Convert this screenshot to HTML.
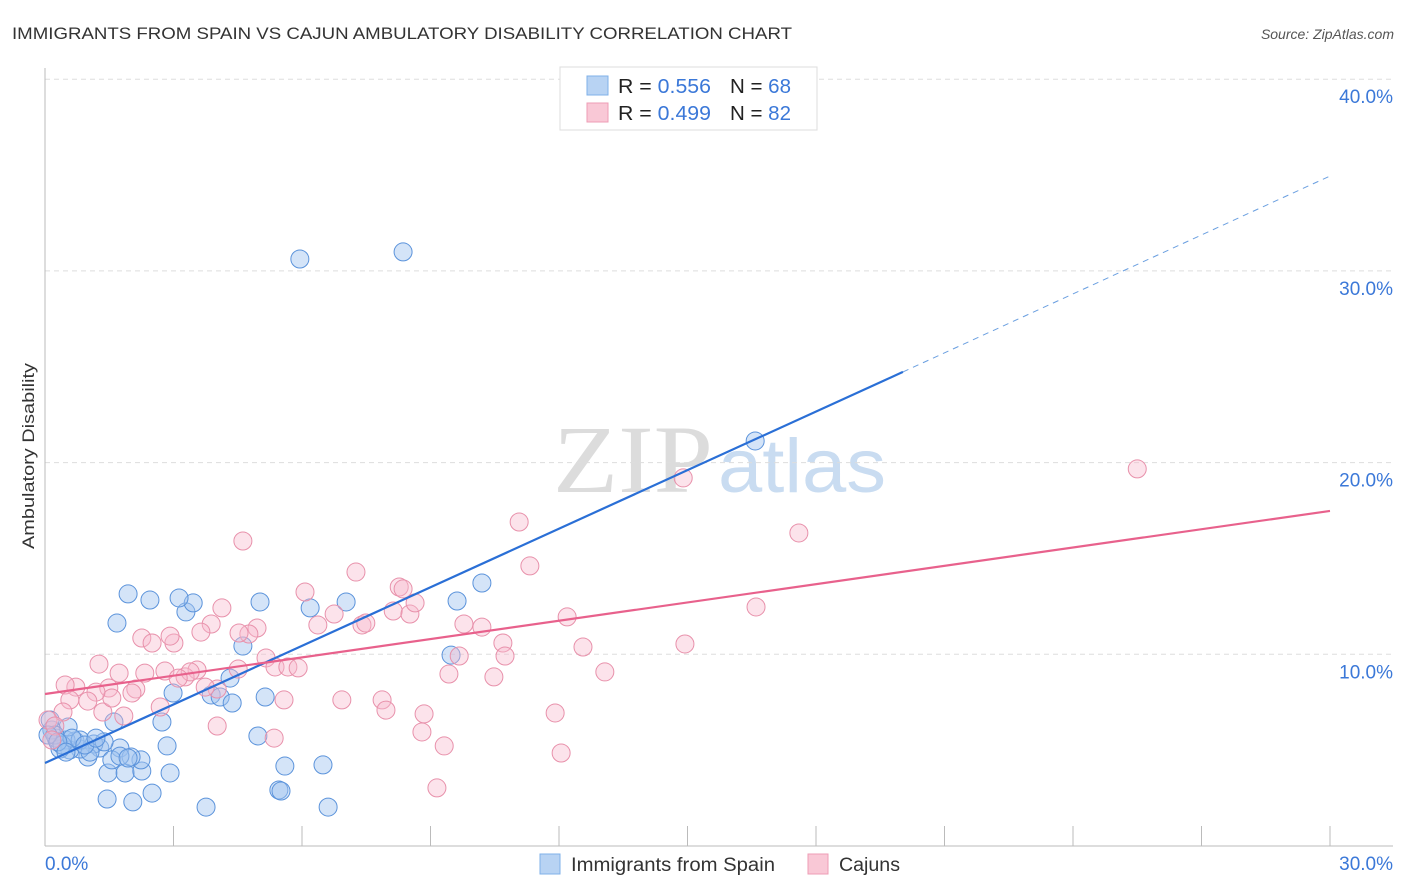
<!DOCTYPE html>
<html><head><meta charset="utf-8">
<style>
body{margin:0;background:#fff;font-family:"Liberation Sans",sans-serif;}
svg{display:block}
</style></head>
<body>
<svg id="chart" width="1406" height="892" xmlns="http://www.w3.org/2000/svg">
<text x="12" y="39" font-size="17" fill="#333" textLength="780" lengthAdjust="spacingAndGlyphs">IMMIGRANTS FROM SPAIN VS CAJUN AMBULATORY DISABILITY CORRELATION CHART</text>
<text x="1394" y="39" font-size="14" font-style="italic" fill="#555" text-anchor="end">Source: ZipAtlas.com</text>
<text x="0" y="0" transform="translate(34,456) rotate(-90)" font-size="17" fill="#333" text-anchor="middle" textLength="186" lengthAdjust="spacingAndGlyphs">Ambulatory Disability</text>
<g>
<text x="553" y="492" font-size="96" font-family="Liberation Serif,serif" fill="#dcdcdc" textLength="160" lengthAdjust="spacingAndGlyphs">ZIP</text>
<text x="718" y="492" font-size="76" fill="#c9dcf1" textLength="168" lengthAdjust="spacingAndGlyphs">atlas</text>
</g>
<g id="grid"></g>
<g id="axes"></g>
<g id="pts"></g>
<g id="trends"></g>
<g>
<rect x="560" y="67" width="257" height="63" fill="#fff" stroke="#ddd"/>
<rect x="587" y="76" width="21" height="19" fill="#b8d3f3" stroke="#7fb0e8"/>
<rect x="587" y="103" width="21" height="19" fill="#f9c8d6" stroke="#ee9db5"/>
<text x="618" y="93" font-size="20" fill="#222" textLength="93" lengthAdjust="spacingAndGlyphs">R = <tspan fill="#3b78d8">0.556</tspan></text>
<text x="730" y="93" font-size="20" fill="#222" textLength="61" lengthAdjust="spacingAndGlyphs">N = <tspan fill="#3b78d8">68</tspan></text>
<text x="618" y="120" font-size="20" fill="#222" textLength="93" lengthAdjust="spacingAndGlyphs">R = <tspan fill="#3b78d8">0.499</tspan></text>
<text x="730" y="120" font-size="20" fill="#222" textLength="61" lengthAdjust="spacingAndGlyphs">N = <tspan fill="#3b78d8">82</tspan></text>
</g>
<g>
<rect x="540" y="854" width="20" height="20" fill="#b8d3f3" stroke="#7fb0e8"/>
<text x="571" y="871" font-size="19" fill="#333" textLength="204" lengthAdjust="spacingAndGlyphs">Immigrants from Spain</text>
<rect x="808" y="854" width="20" height="20" fill="#f9c8d6" stroke="#ee9db5"/>
<text x="839" y="871" font-size="19" fill="#333" textLength="61" lengthAdjust="spacingAndGlyphs">Cajuns</text>
</g>
</svg>
<script>
const xTicks=[0,3,6,9,12,15,18,21,24,27,30];
const yTicks=[10,20,30,40];
const spainX=[5.95,8.36,16.58,10.20,9.62,9.48,7.03,6.19,5.02,4.62,5.14,4.97,5.60,5.46,5.51,6.49,6.61,3.76,2.50,2.05,1.45,1.47,1.87,2.26,2.24,2.92,2.85,2.73,2.99,3.88,4.09,4.37,4.32,3.29,3.46,3.13,2.45,1.94,1.68,1.61,1.75,2.01,1.28,1.14,1.00,0.82,0.70,0.58,0.49,0.35,0.26,0.16,0.12,0.54,0.23,0.82,1.05,1.38,0.40,0.63,1.56,0.07,0.30,0.93,1.75,1.19,1.94,0.49];
const spainY=[30.62,30.99,21.13,13.72,12.78,9.96,12.73,12.42,12.73,10.43,7.77,5.74,4.17,2.92,2.87,4.23,2.03,2.03,2.76,2.30,2.45,3.81,3.81,3.91,4.49,3.81,5.22,6.47,7.98,7.88,7.77,7.46,8.76,12.21,12.68,12.94,12.83,13.15,11.63,6.47,5.11,4.64,5.11,5.32,4.64,5.06,5.48,5.01,5.53,5.06,5.63,6.05,6.57,6.21,5.79,5.53,4.90,5.43,5.27,5.63,4.49,5.79,5.43,5.27,4.69,5.63,4.59,4.90];
const cajunX=[25.50,14.90,11.07,17.60,16.60,11.32,14.94,4.62,7.26,6.07,4.13,4.95,4.76,4.53,3.88,3.64,3.01,2.92,2.26,2.50,1.26,1.73,2.33,2.80,3.55,3.27,3.39,4.51,5.16,5.37,5.67,5.91,6.37,6.75,7.40,7.49,8.27,8.36,8.13,8.52,8.64,9.78,10.20,10.69,10.74,9.67,9.43,12.19,12.56,13.07,10.48,6.93,5.58,7.87,7.96,8.85,8.80,9.32,9.15,11.91,12.05,4.02,3.74,3.11,2.69,2.12,2.03,1.49,1.35,1.56,1.19,0.72,0.47,0.58,1.00,0.42,1.84,4.02,5.35,0.07,0.23,0.16];
const cajunY=[19.67,19.20,16.90,16.33,12.47,14.61,10.54,15.91,14.29,13.25,12.42,11.37,11.06,11.11,11.58,11.16,10.59,10.95,10.85,10.59,9.49,9.02,9.02,9.13,9.18,8.82,9.08,9.23,9.81,9.34,9.34,9.29,11.53,12.10,11.53,11.63,13.51,13.41,12.26,12.10,12.68,11.58,11.42,10.59,9.91,9.91,8.97,11.95,10.38,9.08,8.82,7.62,7.62,7.62,7.09,6.89,5.95,5.22,3.03,6.94,4.85,8.19,8.29,8.76,7.25,8.19,7.98,8.24,6.99,7.72,8.03,8.29,8.40,7.62,7.56,6.99,6.78,6.26,5.63,6.57,6.26,5.53];
const spainTrend=[4.33,24.73,34.95];
const spainTrendX=[0,20.03,30];
const cajunTrend=[7.93,17.48];
const cajunTrendX=[0,30];

const NS='http://www.w3.org/2000/svg';
const sx=v=>45+v*1285/30;
const sy=v=>846-v*19.17;
function mk(tag,attrs,parent){const e=document.createElementNS(NS,tag);for(const k in attrs)e.setAttribute(k,attrs[k]);parent.appendChild(e);return e;}
const grid=document.getElementById('grid'),axes=document.getElementById('axes'),pts=document.getElementById('pts'),tr=document.getElementById('trends');
yTicks.forEach(t=>{
  const l=mk('line',{x1:45,x2:1393,y1:sy(t),y2:sy(t),stroke:'#ddd','stroke-dasharray':'5,4'},grid);
  
  
  const tx=mk('text',{x:1393,y:sy(t)+24,'font-size':19,fill:'#3b78d8','text-anchor':'end'},axes);
  tx.textContent=t.toFixed(1)+'%';
  
  
});
const ax=mk('line',{x1:45,x2:45,y1:68,y2:846,stroke:'#bbb'},axes);


const bx=mk('line',{x1:45,x2:1393,y1:846,y2:846,stroke:'#bbb'},axes);


xTicks.forEach((t,i)=>{
  if(i>0){const tk=mk('line',{x1:sx(t),x2:sx(t),y1:826,y2:846,stroke:'#bbb'},axes);
  
  }
});
[[0,'start',45],[30,'end',1393]].forEach(([t,a,x])=>{
  const tx=mk('text',{x:x,y:870,'font-size':19,fill:'#3b78d8','text-anchor':a},axes);
  tx.textContent=t.toFixed(1)+'%';
  
  
});
spainX.forEach((v,i)=>{
  const c=mk('circle',{cx:sx(v),cy:sy(spainY[i]),r:9,fill:'rgba(160,196,240,0.45)',stroke:'#5b93db','stroke-width':1},pts);
  
  
});
cajunX.forEach((v,i)=>{
  const c=mk('circle',{cx:sx(v),cy:sy(cajunY[i]),r:9,fill:'rgba(248,185,205,0.4)',stroke:'#e891ab','stroke-width':1},pts);
  
  
});
const l1=mk('line',{x1:sx(spainTrendX[0]),y1:sy(spainTrend[0]),x2:sx(spainTrendX[1]),y2:sy(spainTrend[1]),stroke:'#2a6fd6','stroke-width':2.2},tr);


const l2=mk('line',{x1:sx(spainTrendX[1]),y1:sy(spainTrend[1]),x2:sx(spainTrendX[2]),y2:sy(spainTrend[2]),stroke:'#6a9fe0','stroke-width':1,'stroke-dasharray':'6,5'},tr);


const l3=mk('line',{x1:sx(cajunTrendX[0]),y1:sy(cajunTrend[0]),x2:sx(cajunTrendX[1]),y2:sy(cajunTrend[1]),stroke:'#e8618c','stroke-width':2.2},tr);


</script>
</body></html>
